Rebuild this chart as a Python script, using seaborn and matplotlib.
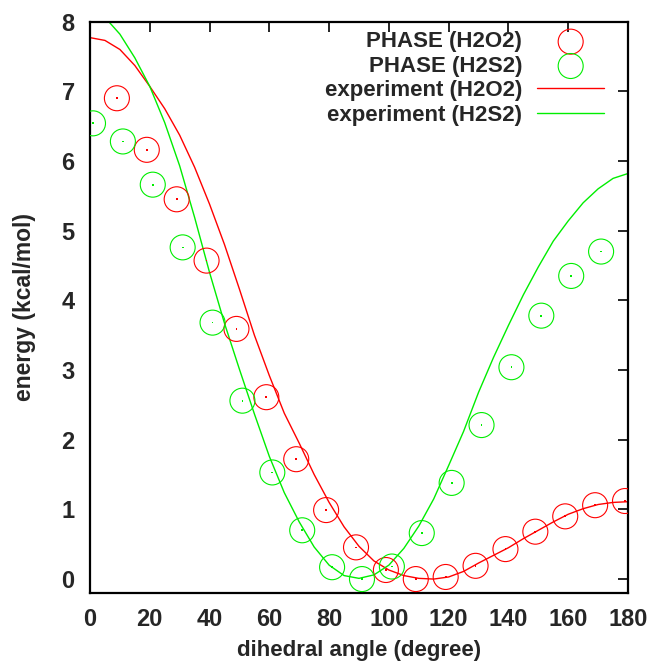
import numpy as np
import pandas as pd
import matplotlib
matplotlib.use("Agg")
import matplotlib.pyplot as plt
import seaborn as sns

# ---- data ----
phase_h2o2_angle = [9, 19, 29, 39, 49, 59, 69, 79, 89, 99, 109, 119, 129, 139, 149, 159, 169, 179]
phase_h2o2_energy = [6.90, 6.16, 5.45, 4.57, 3.59, 2.61, 1.72, 0.99, 0.455, 0.13, 0.0, 0.03,
                     0.19, 0.43, 0.68, 0.90, 1.06, 1.12]
phase_h2s2_angle = [1, 11, 21, 31, 41, 51, 61, 71, 81, 91, 101, 111, 121, 131, 141, 151, 161, 171]
phase_h2s2_energy = [6.54, 6.28, 5.66, 4.76, 3.68, 2.56, 1.53, 0.70, 0.17, 0.0, 0.18, 0.66,
                     1.38, 2.21, 3.04, 3.78, 4.35, 4.70]

exp_angle = [0, 5, 10, 15, 20, 25, 30, 35, 40, 45, 50, 55, 60, 65, 70, 75, 80, 85, 90,
             95, 100, 105, 110, 115, 120, 125, 130, 135, 140, 145, 150, 155, 160, 165,
             170, 175, 180]
exp_h2o2_energy = [7.77, 7.73, 7.60, 7.37, 7.07, 6.75, 6.37, 5.91, 5.38, 4.80, 4.16, 3.50,
                   2.92, 2.38, 1.95, 1.50, 1.10, 0.75, 0.47, 0.26, 0.13, 0.05, 0.01, 0.0,
                   0.03, 0.11, 0.23, 0.34, 0.45, 0.58, 0.70, 0.82, 0.93, 1.01, 1.07, 1.10, 1.11]
exp_h2s2_energy = [8.18, 8.06, 7.82, 7.48, 7.07, 6.55, 5.93, 5.19, 4.40, 3.67, 3.01, 2.37,
                   1.76, 1.24, 0.82, 0.46, 0.20, 0.05, 0.01, 0.06, 0.20, 0.44, 0.76, 1.15,
                   1.63, 2.12, 2.68, 3.18, 3.64, 4.08, 4.48, 4.85, 5.14, 5.40, 5.60, 5.75, 5.82]

x_ticks = [0, 20, 40, 60, 80, 100, 120, 140, 160, 180]
y_ticks = [0, 1, 2, 3, 4, 5, 6, 7, 8]

RED = "#ff0000"
GREEN = "#00ee00"

sns.set_style("white")
plt.rcParams["font.family"] = ["Liberation Sans", "DejaVu Sans"]

W, H = 652, 664
AX_L, AX_R, AX_T, AX_B = 90, 628, 21.6, 593
fig = plt.figure(figsize=(W / 100, H / 100), dpi=100)
ax = fig.add_axes([AX_L / W, 1 - AX_B / H, (AX_R - AX_L) / W, (AX_B - AX_T) / H])

msize = 18 ** 2
sns.scatterplot(x=phase_h2o2_angle, y=phase_h2o2_energy, ax=ax, marker="o", s=msize,
                facecolor="none", edgecolor=RED, linewidth=0.8, label="PHASE (H2O2)",
                zorder=3)
sns.scatterplot(x=phase_h2s2_angle, y=phase_h2s2_energy, ax=ax, marker="o", s=msize,
                facecolor="none", edgecolor=GREEN, linewidth=0.8, label="PHASE (H2S2)",
                zorder=3)
# tiny centre dots of the point symbols
sns.scatterplot(x=phase_h2o2_angle, y=phase_h2o2_energy, ax=ax, marker="s", s=1.5,
                color=RED, edgecolor="none", zorder=3, legend=False)
sns.scatterplot(x=phase_h2s2_angle, y=phase_h2s2_energy, ax=ax, marker="s", s=1.5,
                color=GREEN, edgecolor="none", zorder=3, legend=False)

sns.lineplot(x=exp_angle, y=exp_h2o2_energy, ax=ax, color=RED, linewidth=1.0,
             label="experiment (H2O2)")
sns.lineplot(x=exp_angle, y=exp_h2s2_energy, ax=ax, color=GREEN, linewidth=1.0,
             label="experiment (H2S2)")

ax.set_xlim(0, 180)
ax.set_ylim(-0.2, 8)
ax.set_xticks(x_ticks)
ax.set_yticks(y_ticks)
ax.tick_params(direction="in", length=7, width=1.2, color="black",
               top=True, right=True, labelsize=17)
ax.tick_params(axis="x", pad=11)
ax.tick_params(axis="y", pad=11)
for lab in ax.get_xticklabels() + ax.get_yticklabels():
    lab.set_fontweight("bold")
for sp in ax.spines.values():
    sp.set_color("black")
    sp.set_linewidth(1.6)

ax_h = AX_B - AX_T
ax_w = AX_R - AX_L
ax.set_xlabel("dihedral angle (degree)", fontsize=16, fontweight="bold")
ax.set_ylabel("energy (kcal/mol)", fontsize=16.5, fontweight="bold")
ax.xaxis.set_label_coords(0.5, -(640 - AX_B) / ax_h)
ax.yaxis.set_label_coords(-(AX_L - 36) / ax_w, 0.5)

leg = ax.legend(loc="upper right",
                bbox_to_anchor=((604 - AX_L) / ax_w, 1 - (31.5 - AX_T) / ax_h),
                frameon=False, markerfirst=False, borderpad=0, borderaxespad=0,
                handlelength=3.0, handletextpad=0.68, labelspacing=0.15,
                prop={"size": 16, "weight": "bold"})

fig.savefig("out.png", dpi=100)
